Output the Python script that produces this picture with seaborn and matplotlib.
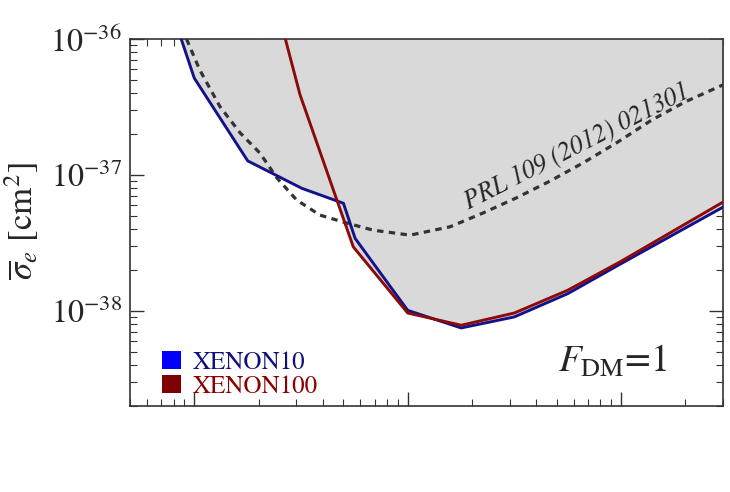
import numpy as np
import pandas as pd
import matplotlib
matplotlib.use("Agg")
import matplotlib.pyplot as plt
import matplotlib.ticker as mticker
from matplotlib.patches import Patch
import seaborn as sns

# DM mass [MeV] vs reduced cross section [cm^2]
xe10_mass = [8.6, 10.0, 17.8, 31.9, 50.0, 56.7, 100.0, 178.0, 316.0, 562.0, 1000.0, 3000.0]
xe10_sigma = [1.05e-36, 5.16e-37, 1.27e-37, 7.98e-38, 6.19e-38, 3.42e-38, 1.01e-38,
              7.5e-39, 9.04e-39, 1.34e-38, 2.23e-38, 5.8e-38]

xe100_mass = [26.5, 31.3, 55.6, 100.0, 178.0, 316.0, 562.0, 1000.0, 3000.0]
xe100_sigma = [1.05e-36, 3.89e-37, 2.96e-38, 9.66e-39, 7.85e-39, 9.66e-39, 1.42e-38,
               2.32e-38, 6.32e-38]

# earlier XENON10 limit, PRL 109 (2012) 021301
prl_mass = [9.2, 10.6, 13.2, 16.4, 20.3, 24.4, 30.2, 38.8, 51.8, 68.8, 102.6, 158.0,
            227.0, 325.0, 468.0, 671.0, 966.0, 1387.0, 1995.0, 3000.0]
prl_sigma = [1.0e-36, 5.94e-37, 3.18e-37, 2.04e-37, 1.45e-37, 9.5e-38, 6.54e-38, 5.07e-38,
             4.43e-38, 3.93e-38, 3.61e-38, 4.16e-38, 5.28e-38, 6.82e-38, 9.08e-38,
             1.24e-37, 1.75e-37, 2.53e-37, 3.45e-37, 4.6e-37]

x_major = [10, 100, 1000]
y_major = [1e-38, 1e-37, 1e-36]

labels = ['XENON10', 'XENON100']
line_colors = ['#12128a', '#8c0a0a']
patch_colors = ['#0000ff', '#800000']
text_colors = ['#10107a', '#8b0000']

sns.set_style("ticks")
plt.rcParams['font.family'] = ['STIXGeneral', 'DejaVu Serif']
plt.rcParams['mathtext.fontset'] = 'stix'

fig = plt.figure(figsize=(7.3, 4.92), dpi=100)
ax = fig.add_axes([130 / 730, 1 - 406 / 492, 593 / 730, 367 / 492])
ax.set_xscale('log')
ax.set_yscale('log')

# excluded region = above either limit
ymax = 1e-36
ax.fill_between(xe10_mass, xe10_sigma, ymax, color='#d9d9d9', lw=0, zorder=1)
ax.fill_between(xe100_mass, xe100_sigma, ymax, color='#d9d9d9', lw=0, zorder=1)

df_prl = pd.DataFrame({'mass': prl_mass, 'sigma': prl_sigma})
df10 = pd.DataFrame({'mass': xe10_mass, 'sigma': xe10_sigma})
df100 = pd.DataFrame({'mass': xe100_mass, 'sigma': xe100_sigma})

sns.lineplot(data=df_prl, x='mass', y='sigma', ax=ax, color='#333333', lw=2.3,
             linestyle=(0, (2.0, 1.7)), estimator=None, sort=False, zorder=2)
sns.lineplot(data=df10, x='mass', y='sigma', ax=ax, color=line_colors[0], lw=2.1,
             estimator=None, sort=False, zorder=3)
sns.lineplot(data=df100, x='mass', y='sigma', ax=ax, color=line_colors[1], lw=2.1,
             estimator=None, sort=False, zorder=4)

ax.set_xlim(5, 3000)
ax.set_ylim(2e-39, 1e-36)

ax.xaxis.set_major_locator(mticker.FixedLocator(x_major))
ax.yaxis.set_major_locator(mticker.FixedLocator(y_major))
ax.yaxis.set_major_formatter(mticker.LogFormatterSciNotation())
ax.xaxis.set_minor_locator(mticker.LogLocator(base=10, subs=np.arange(2, 10), numticks=20))
ax.yaxis.set_minor_locator(mticker.LogLocator(base=10, subs=np.arange(2, 10), numticks=20))
ax.xaxis.set_minor_formatter(mticker.NullFormatter())
ax.yaxis.set_minor_formatter(mticker.NullFormatter())

ax.tick_params(which='both', direction='in', top=True, right=True, color='#333333',
               labelbottom=False)
ax.tick_params(which='major', length=10, width=1.0, labelsize=23, pad=6)
ax.tick_params(which='minor', length=5, width=0.8)
for sp in ax.spines.values():
    sp.set_color('#333333')
    sp.set_linewidth(1.2)

ax.set_xlabel('')
ax.set_ylabel(r'$\overline{\sigma}_e$ [cm$^2$]', fontsize=25)
ax.yaxis.set_label_coords(-0.150, 0.505)

ax.text(640, 1.46e-37, 'PRL 109 (2012) 021301', rotation=27, style='italic', fontsize=18.5,
        ha='center', va='baseline', rotation_mode='anchor', zorder=5)
ax.text(0.906, 0.12, r'$F_{\rm DM}$=1', transform=ax.transAxes, ha='right', va='center',
        fontsize=27)

handles = [Patch(facecolor=c, edgecolor='none', label=l) for c, l in zip(patch_colors, labels)]
ax.legend(handles=handles, loc='lower left', bbox_to_anchor=(0.054, 0.02), frameon=False,
          fontsize=18, handlelength=0.75, handleheight=0.75, handletextpad=0.5,
          labelspacing=0.0, borderpad=0, borderaxespad=0, labelcolor=text_colors)

fig.savefig('out.png', dpi=100)
